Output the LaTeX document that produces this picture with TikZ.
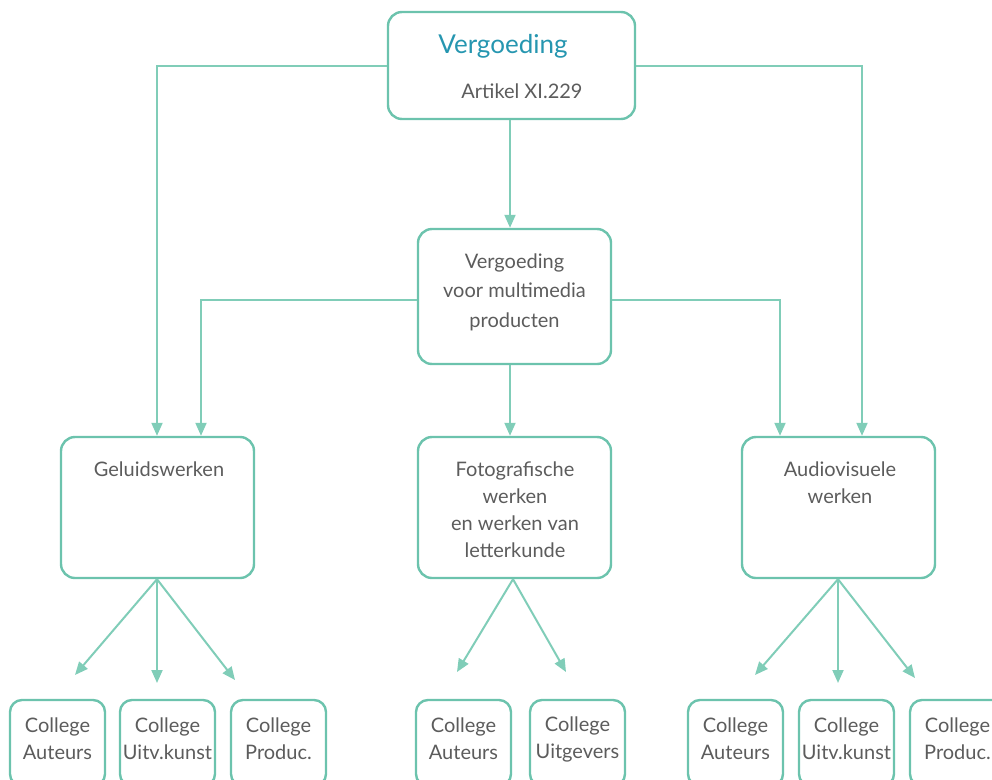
\documentclass[tikz,border=0pt]{standalone}
\usepackage{fontspec}
\setmainfont{Lato}
\usetikzlibrary{arrows.meta,calc}
\definecolor{teal}{RGB}{108,195,173}
\definecolor{tealline}{RGB}{128,205,184}
\definecolor{txt}{RGB}{92,92,92}
\definecolor{ttl}{RGB}{38,150,176}
\tikzset{
  box/.style={draw=teal,line width=2.4pt,rounded corners=14pt,inner sep=0pt},
  leaf/.style={box,rounded corners=12pt,minimum width=95pt,minimum height=86pt},
  lbl/.style={text=txt,font=\fontsize{20}{27}\selectfont,align=center,inner sep=0pt},
  conn/.style={draw=tealline,line width=2pt,-{Triangle[length=13pt,width=11pt]}},
  plain/.style={draw=tealline,line width=2pt}
}
\begin{document}
\begin{tikzpicture}[x=1pt,y=1pt]
\useasboundingbox (0,0) rectangle (992,-779);
\begin{scope}
\clip (0,0) rectangle (992,-779);
% boxes
\node[box,minimum width=247pt,minimum height=107pt] (top) at (511.5,-65.5) {};
\node[box,minimum width=193pt,minimum height=135pt] (mid) at (514.5,-296.5) {};
\node[box,minimum width=193pt,minimum height=141pt] (geluid) at (157.5,-507.5) {};
\node[box,minimum width=193pt,minimum height=141pt] (foto) at (514.5,-507.5) {};
\node[box,minimum width=193pt,minimum height=141pt] (audio) at (838.5,-507.5) {};
% leaves
\node[leaf] (g1) at (57.5,-743) {};
\node[leaf] (g2) at (167.5,-743) {};
\node[leaf] (g3) at (278.5,-743) {};
\node[leaf] (f1) at (463.5,-743) {};
\node[leaf] (f2) at (577.5,-743) {};
\node[leaf] (a1) at (735.5,-743) {};
\node[leaf] (a2) at (846.5,-743) {};
\node[leaf] (a3) at (957.5,-743) {};
% texts
\node[text=ttl,font=\fontsize{26}{30}\selectfont,inner sep=0pt] (ttitle) at (503,-46) {Vergoeding};
\node[lbl] (tart) at (522,-91) {Artikel XI.229};
\node[lbl,font=\fontsize{20}{29.5}\selectfont] (tmid) at (514.5,-292) {Vergoeding\\voor multimedia\\producten};
\node[lbl] (tgel) at (159,-469) {Geluidswerken};
\node[lbl] (tfoto) at (515,-510) {Fotografische\\werken\\en werken van\\letterkunde};
\node[lbl] (taud) at (840,-482.5) {Audiovisuele\\werken};
\foreach \n/\t in {g1/Auteurs,g2/Uitv.kunst,g3/Produc.,f1/Auteurs,f2/Uitgevers,a1/Auteurs,a2/Uitv.kunst,a3/Produc.}{
  \node[lbl] (t\n) at ($(\n.center)+(0,4)$) {College\\\t};
}
% connectors
\draw[conn] ([yshift=-0.5pt]top.west) -| ([xshift=-0.5pt]geluid.north);
\draw[conn] ([yshift=-0.5pt]top.east) -| ([xshift=23.5pt]audio.north);
\draw[conn] ([xshift=-1.5pt]top.south) -- ([xshift=-1.5pt]top.south |- mid.north);
\draw[conn] ([yshift=-3.5pt]mid.west) -| ([xshift=43.5pt]geluid.north);
\draw[conn] ([yshift=-3.5pt]mid.east) -| ([xshift=-58.5pt]audio.north);
\draw[conn] ([xshift=-4.5pt]mid.south) -- ([xshift=-4.5pt]mid.south |- foto.north);
% fans
\coordinate (eg1) at (75,-675);
\coordinate (eg2) at (157,-683);
\coordinate (eg3) at (235,-680);
\coordinate (ef1) at (457,-672);
\coordinate (ef2) at (566,-672);
\coordinate (ea1) at (755,-675);
\coordinate (ea2) at (838,-683);
\coordinate (ea3) at (915,-678);
\foreach \e in {eg1,eg2,eg3}{\draw[conn] ([xshift=-0.5pt]geluid.south) -- (\e);}
\foreach \e in {ef1,ef2}{\draw[conn] ([xshift=-1.5pt]foto.south) -- (\e);}
\foreach \e in {ea1,ea2,ea3}{\draw[conn] ([xshift=-0.5pt]audio.south) -- (\e);}
\end{scope}
\end{tikzpicture}
\end{document}
